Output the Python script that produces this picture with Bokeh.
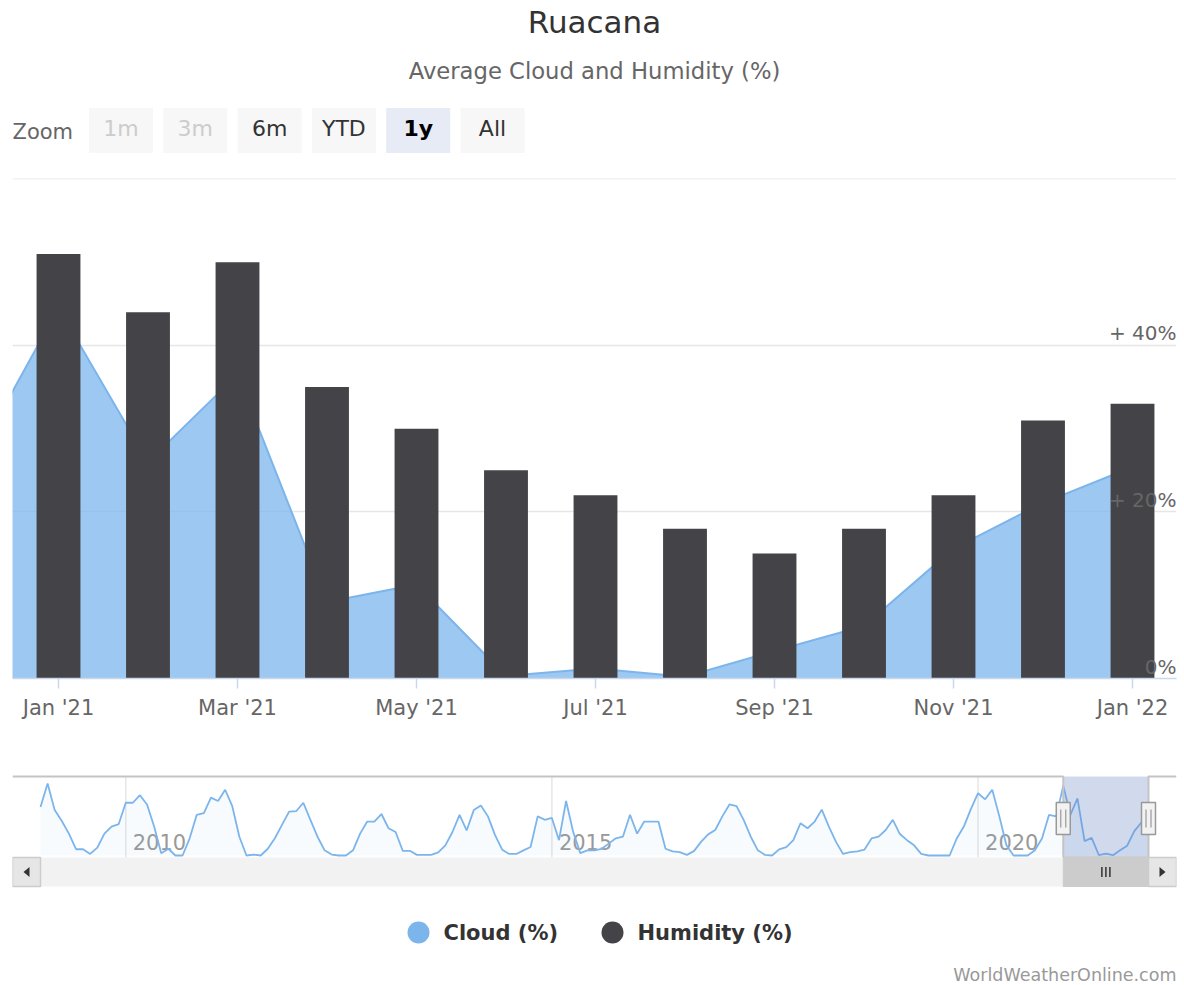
import numpy as np
from bokeh.plotting import figure
from bokeh.models import Range1d, FixedTicker, Grid, ColumnDataSource
from bokeh.layouts import column
from bokeh.core.properties import value
from bokeh.embed import file_html
from bokeh.resources import INLINE

FONT = "DejaVu Sans"

# ---------------- data ----------------
chart_title = "Ruacana"
chart_subtitle = "Average Cloud and Humidity (%)"
credits_text = "WorldWeatherOnline.com"
series_names = ["Cloud (%)", "Humidity (%)"]
series_colors = ["#7cb5ec", "#434348"]

cloud_months = ["2020-12", "2021-01", "2021-02", "2021-03", "2021-04", "2021-05", "2021-06",
                "2021-07", "2021-08", "2021-09", "2021-10", "2021-11", "2021-12", "2022-01"]
cloud_values = [25.0, 44.5, 26.0, 36.5, 9.2, 11.3, 0.3, 1.2, 0.2, 3.3, 6.3, 15.6, 21.1, 25.4]

humidity_months = ["2021-01", "2021-02", "2021-03", "2021-04", "2021-05", "2021-06", "2021-07",
                   "2021-08", "2021-09", "2021-10", "2021-11", "2021-12", "2022-01"]
humidity_values = [51, 44, 50, 35, 30, 25, 22, 18, 15, 18, 22, 31, 33]

x_tick_months = ["2021-01", "2021-03", "2021-05", "2021-07", "2021-09", "2021-11", "2022-01"]
x_tick_labels = ["Jan '21", "Mar '21", "May '21", "Jul '21", "Sep '21", "Nov '21", "Jan '22"]
y_ticks = [0, 20, 40, 60]
y_tick_labels = ["0%", "+ 20%", "+ 40%"]          # last (60) label is not shown

zoom_label = "Zoom"
zoom_buttons = ["1m", "3m", "6m", "YTD", "1y", "All"]
zoom_states = ["disabled", "disabled", "normal", "normal", "selected", "normal"]

# navigator: monthly cloud cover, Jan 2009 .. Nov 2020 (then cloud_values from Dec 2020)
nav_first_month = "2009-01"
nav_cloud_2009 = [31, 46, 29, 22, 14, 4, 4, 1, 5, 14, 18.5, 20]
nav_cloud_2010 = [33.7, 33.7, 38.5, 32.6, 18.5, 1.5, 4.3, 0, 0, 11, 26, 27]
nav_cloud_2011 = [37, 34.8, 42, 31.5, 12, 0, 0.6, 0, 4.3, 11, 19.6, 28]
nav_cloud_2012 = [28.3, 33.7, 22.8, 12, 3.3, 0.6, 0, 0, 3.3, 14, 21.7, 21.7]
nav_cloud_2013 = [26.5, 17.4, 15, 3, 3, 0.4, 0.4, 0.4, 2, 6.5, 15, 26]
nav_cloud_2014 = [16, 29, 32, 25, 13, 3.7, 1, 1, 3.3, 5.4, 25, 22.8]
nav_cloud_2015 = [24, 9.8, 34.8, 15, 1.5, 3.3, 3.3, 4.3, 7.6, 11, 12, 26]
nav_cloud_2016 = [14, 21.7, 21.7, 21.7, 4.3, 2.6, 2.2, 0.4, 2.8, 8.7, 13.5, 16.3]
nav_cloud_2017 = [25, 32.6, 31.5, 22.8, 12, 3.3, 0.4, 0, 3.9, 5.4, 9.8, 20.6]
nav_cloud_2018 = [17.4, 21.7, 29.3, 18.5, 8.7, 1, 2.2, 2.6, 3.7, 10.9, 12, 16.3]
nav_cloud_2019 = [22.8, 13.7, 9.8, 6.5, 1, 0, 0, 0, 0, 10.9, 18.5, 29.8]
nav_cloud_2020 = [39.8, 35.9, 42, 25, 6.5, 0, 0, 0, 3.3, 10.9, 26]
nav_year_labels = ["2010", "2015", "2020"]
nav_selected = ["2021-01", "2022-01"]


def month_index(s, base):
    y, m = map(int, s.split("-"))
    by, bm = map(int, base.split("-"))
    return (y - by) * 12 + (m - bm)


# ---------------- layout constants (page pixels) ----------------
W = 1184
PAGE_X0, PAGE_X1 = 0, 1184
PLOT_L, PLOT_R = 12, 1176
BORDER_L, BORDER_R = PLOT_L - PAGE_X0, PAGE_X1 - PLOT_R


def px_figure(height, y_top, y_bottom):
    f = figure(width=W, height=height, x_range=Range1d(PLOT_L, PLOT_R),
               y_range=Range1d(y_bottom, y_top), output_backend="svg",
               toolbar_location=None, x_axis_type=None, y_axis_type=None,
               min_border_left=BORDER_L, min_border_right=BORDER_R,
               min_border_top=0, min_border_bottom=0)
    f.outline_line_color = None
    f.background_fill_color = "white"
    f.border_fill_color = "white"
    return f


# ---------------- header ----------------
head = px_figure(178, 0, 178)
head.text(x=[594], y=[21], text=[chart_title], text_font=value(FONT), text_font_size="31px",
          text_color="#333333", text_align="center", text_baseline="middle")
head.text(x=[594], y=[70], text=[chart_subtitle], text_font=value(FONT), text_font_size="22.7px",
          text_color="#666666", text_align="center", text_baseline="middle")
head.text(x=[12], y=[131], text=[zoom_label], text_font=value(FONT), text_font_size="21px",
          text_color="#666666", text_align="left", text_baseline="middle")
fill_map = {"disabled": "#f7f7f7", "normal": "#f7f7f7", "selected": "#e6ebf5"}
text_map = {"disabled": "#cccccc", "normal": "#333333", "selected": "#000000"}
style_map = {"disabled": "normal", "normal": "normal", "selected": "bold"}
bsrc = ColumnDataSource(dict(
    x=[120.5 + 74.3 * i for i in range(len(zoom_buttons))],
    label=zoom_buttons,
    fill=[fill_map[s] for s in zoom_states],
    tcol=[text_map[s] for s in zoom_states],
    tsty=[style_map[s] for s in zoom_states],
))
head.rect(x="x", y=130, width=64, height=45, fill_color="fill", line_color=None, source=bsrc)
head.text(x="x", y=128, text="label", text_color="tcol", text_font_style="tsty",
          text_font=value(FONT), text_font_size="22px", text_align="center",
          text_baseline="middle", source=bsrc)

# ---------------- main chart ----------------
MAIN_BASE = humidity_months[0]
cx = [month_index(s, MAIN_BASE) for s in cloud_months]
hx = [month_index(s, MAIN_BASE) for s in humidity_months]
tx = [month_index(s, MAIN_BASE) for s in x_tick_months]

SLOT = 89.5          # px per month slot
FIRST_SLOT_PX = 58   # page x of first slot centre
x_start = (PLOT_L - FIRST_SLOT_PX) / SLOT
x_end = (PLOT_R - FIRST_SLOT_PX) / SLOT

main = figure(width=W, height=592, x_range=Range1d(x_start, x_end), y_range=Range1d(0, 60.06),
              output_backend="svg", toolbar_location=None, y_axis_type=None,
              min_border_left=BORDER_L, min_border_right=BORDER_R,
              min_border_top=0, min_border_bottom=92)
main.outline_line_color = None
main.background_fill_color = "white"
main.border_fill_color = "white"
main.xgrid.visible = False
main.add_layout(Grid(dimension=1, ticker=FixedTicker(ticks=y_ticks),
                     grid_line_color="#e6e6e6", grid_line_width=1.5))

ax = main.xaxis[0]
ax.ticker = FixedTicker(ticks=tx)
ax.major_label_overrides = {t: lab for t, lab in zip(tx, x_tick_labels)}
ax.axis_line_color = "#ccd6eb"
ax.axis_line_width = 1.5
ax.major_tick_line_color = "#ccd6eb"
ax.major_tick_line_width = 1.5
ax.major_tick_out = 10
ax.major_tick_in = 0
ax.minor_tick_line_color = None
ax.major_label_text_font = FONT
ax.major_label_text_font_size = "21px"
ax.major_label_text_color = "#666666"
ax.major_label_standoff = 7

main.varea(x=cx, y1=0, y2=cloud_values, fill_color=series_colors[0], fill_alpha=0.75)
main.line(x=cx, y=cloud_values, line_color=series_colors[0], line_width=2)
main.vbar(x=hx, top=humidity_values, width=0.49, fill_color=series_colors[1], line_color=None)
main.text(x=[x_end] * len(y_tick_labels), y=y_ticks[:len(y_tick_labels)], text=y_tick_labels,
          text_font=value(FONT), text_font_size="20px", text_color="#666666",
          text_align="right", text_baseline="middle", y_offset=-12)

# ---------------- navigator / scrollbar / legend ----------------
bot = px_figure(214, 770, 984)

nav_values = (nav_cloud_2009 + nav_cloud_2010 + nav_cloud_2011 + nav_cloud_2012 + nav_cloud_2013
              + nav_cloud_2014 + nav_cloud_2015 + nav_cloud_2016 + nav_cloud_2017 + nav_cloud_2018
              + nav_cloud_2019 + nav_cloud_2020 + cloud_values)
nav_x = list(range(len(nav_values)))

NAV_X0, NAV_X1 = 40, 1148             # page x of first / last month
NAV_DX = (NAV_X1 - NAV_X0) / (len(nav_values) - 1)
NAV_TOP, NAV_BOTTOM = 776, 857
NAV_Y0 = 855                          # page y of value 0
NAV_DY = 72 / max(nav_values)         # px per unit


def nav_m(px):
    return (px - NAV_X0) / NAV_DX


def nav_px(m):
    return NAV_X0 + m * NAV_DX


def nav_v(py):
    return (NAV_Y0 - py) / NAV_DY


bot.extra_x_ranges = {"navx": Range1d(nav_m(PLOT_L), nav_m(PLOT_R))}
bot.extra_y_ranges = {"navy": Range1d(nav_v(984), nav_v(770))}

year_m = [month_index(y + "-01", nav_first_month) for y in nav_year_labels]
bot.segment(x0=year_m, x1=year_m, y0=NAV_TOP, y1=NAV_BOTTOM, x_range_name="navx",
            line_color="#e6e6e6", line_width=1.5)
bot.text(x=year_m, y=841, text=nav_year_labels, x_range_name="navx", x_offset=7,
         text_font=value(FONT), text_font_size="21px", text_color="#999999",
         text_align="left", text_baseline="middle")
bot.varea(x=nav_x, y1=0, y2=nav_values, x_range_name="navx", y_range_name="navy",
          fill_color=series_colors[0], fill_alpha=0.06)
bot.line(x=nav_x, y=nav_values, x_range_name="navx", y_range_name="navy",
         line_color=series_colors[0], line_width=1.8)

sel_l = nav_px(month_index(nav_selected[0], nav_first_month))
sel_r = nav_px(month_index(nav_selected[1], nav_first_month))

# mask
bot.quad(left=[sel_l], right=[sel_r], top=[NAV_TOP], bottom=[NAV_BOTTOM],
         fill_color="#6685c2", fill_alpha=0.3, line_color=None)
# outline
bot.line(x=[PLOT_L, sel_l, sel_l, sel_r, sel_r, PLOT_R],
         y=[NAV_TOP, NAV_TOP, NAV_BOTTOM, NAV_BOTTOM, NAV_TOP, NAV_TOP],
         line_color="#c4c4c4", line_width=2)

# scrollbar
SB_TOP, SB_BOTTOM = 857, 886
SB_MID = (SB_TOP + SB_BOTTOM) / 2
bot.quad(left=[PLOT_L], right=[PLOT_R], top=[SB_TOP], bottom=[SB_BOTTOM],
         fill_color="#f2f2f2", line_color=None)
bot.quad(left=[PLOT_L, NAV_X1], right=[NAV_X0, PLOT_R], top=[SB_TOP] * 2, bottom=[SB_BOTTOM] * 2,
         fill_color="#e6e6e6", line_color="#cccccc", line_width=1.5)
bot.quad(left=[sel_l], right=[sel_r], top=[SB_TOP], bottom=[SB_BOTTOM],
         fill_color="#cccccc", line_color="#cccccc")
la, ra = (PLOT_L + NAV_X0) / 2, (NAV_X1 + PLOT_R) / 2
bot.patches(xs=[[la - 3, la + 3, la + 3], [ra + 3, ra - 3, ra - 3]],
            ys=[[SB_MID, SB_MID - 5, SB_MID + 5], [SB_MID, SB_MID - 5, SB_MID + 5]],
            fill_color="#333333", line_color=None)
rc = (sel_l + sel_r) / 2
bot.segment(x0=[rc - 4, rc, rc + 4], x1=[rc - 4, rc, rc + 4], y0=SB_MID - 5, y1=SB_MID + 5,
            line_color="#333333", line_width=1.5)

# handles
HANDLE_Y = 818
bot.rect(x=[sel_l, sel_r], y=HANDLE_Y, width=14, height=32, fill_color="#f2f2f2",
         line_color="#999999", line_width=1.5)
hx_lines = [sel_l - 2.5, sel_l + 2.5, sel_r - 2.5, sel_r + 2.5]
bot.segment(x0=hx_lines, x1=hx_lines, y0=HANDLE_Y - 9, y1=HANDLE_Y + 9,
            line_color="#999999", line_width=1.2)

# legend
LEG_Y = 932
leg_sym_x = [418, 612]
bot.scatter(x=leg_sym_x, y=LEG_Y, size=22, marker="circle", fill_color=series_colors,
            line_color=None)
bot.text(x=[x + 25 for x in leg_sym_x], y=LEG_Y, text=series_names, text_font=value(FONT),
         text_font_size="21px", text_font_style="bold", text_color="#333333",
         text_align="left", text_baseline="middle")

# credits
bot.text(x=[PLOT_R], y=[974], text=[credits_text], text_font=value(FONT), text_font_size="17.5px",
         text_color="#999999", text_align="right", text_baseline="middle")

layout = column(head, main, bot, spacing=0)
open("out.html", "w").write(file_html(layout, INLINE))
